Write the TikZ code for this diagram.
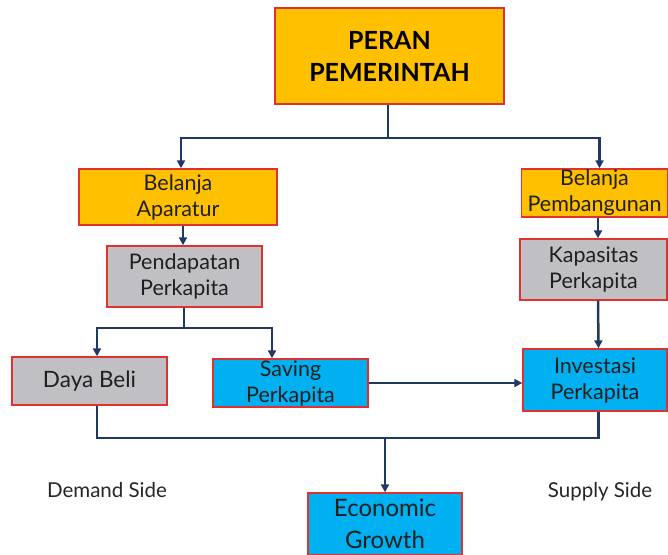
\documentclass[tikz,border=0pt]{standalone}
\usepackage{fontspec}
\setmainfont{Lato}
\usetikzlibrary{arrows.meta,positioning}
\definecolor{orangebox}{RGB}{255,192,0}
\definecolor{greybox}{RGB}{192,192,196}
\definecolor{bluebox}{RGB}{0,176,240}
\definecolor{redline}{RGB}{224,48,48}
\definecolor{navy}{RGB}{31,56,100}
\tikzset{
  box/.style={draw=redline, line width=1.4pt, align=center, inner sep=0pt, font=\fontsize{21.5}{26}\selectfont, text=black!88},
  orangebx/.style={box, fill=orangebox},
  greybx/.style={box, fill=greybox},
  bluebx/.style={box, fill=bluebox},
  conn/.style={draw=navy, line width=2.5pt},
  arr/.style={conn, -{Triangle[length=8pt,width=8pt]}},
  side/.style={font=\fontsize{20.5}{24}\selectfont, text=black!85}
}
\begin{document}
\begin{tikzpicture}[x=1pt,y=-1pt]
\useasboundingbox (0,0) rectangle (668,554);
\node[orangebx, line width=2.6pt, minimum width=229pt, minimum height=96pt, font=\bfseries\fontsize{25}{32}\selectfont, text=black] (peran) at (389.5,56) {PERAN\\PEMERINTAH};
\node[orangebx, minimum width=198pt, minimum height=56pt] (ba) at (178,197) {Belanja\\Aparatur};
\node[greybx, minimum width=155pt, minimum height=61pt] (pp) at (184.5,276.5) {Pendapatan\\Perkapita};
\node[orangebx, minimum width=146pt, minimum height=48pt] (bp) at (594.5,193) {Belanja\\Pembangunan};
\node[greybx, minimum width=147pt, minimum height=61pt] (kp) at (593.5,269.5) {Kapasitas\\Perkapita};
\node[greybx, minimum width=155pt, minimum height=48pt, font=\fontsize{22.5}{26}\selectfont] (db) at (89.5,381) {Daya Beli};
\node[bluebx, minimum width=155pt, minimum height=48pt] (sp) at (290.5,383) {Saving\\Perkapita};
\node[bluebx, minimum width=144pt, minimum height=62pt] (ip) at (595,380) {Investasi\\Perkapita};
\node[bluebx, minimum width=154pt, minimum height=62pt, font=\fontsize{24}{32}\selectfont] (eg) at (385,524) {Economic\\Growth};
\node[side] (ds) at (107,490) {Demand Side};
\node[side] (ss) at (600,492) {Supply Side};
% connectors
\coordinate (j1) at (388,138);
\draw[conn] (peran.south -| j1) -- (j1);
\draw[arr] (j1) -| ([xshift=3pt]ba.north);
\draw[arr] (j1) -| ([xshift=5pt]bp.north);
\draw[arr] ([xshift=5pt]ba.south) -- ([xshift=-1.5pt]pp.north);
\draw[arr] ([xshift=3.5pt]bp.south) -- ([xshift=4.5pt]kp.north);
\draw[arr] ([xshift=4.5pt]kp.south) -- ([xshift=3.5pt]ip.north);
\coordinate (j2) at (184,328);
\draw[conn] (pp.south -| j2) -- (j2);
\draw[arr] (j2) -| ([xshift=7.5pt]db.north);
\draw[arr] (j2) -| ([xshift=-18.5pt]sp.north);
\draw[arr] (sp.east) -- (sp.east -| ip.west);
\coordinate (j3) at (385,438);
\draw[conn] ([xshift=7.5pt]db.south) |- (j3) -| ([xshift=3.5pt]ip.south);
\draw[arr] (j3) -- (eg.north);
\end{tikzpicture}
\end{document}
